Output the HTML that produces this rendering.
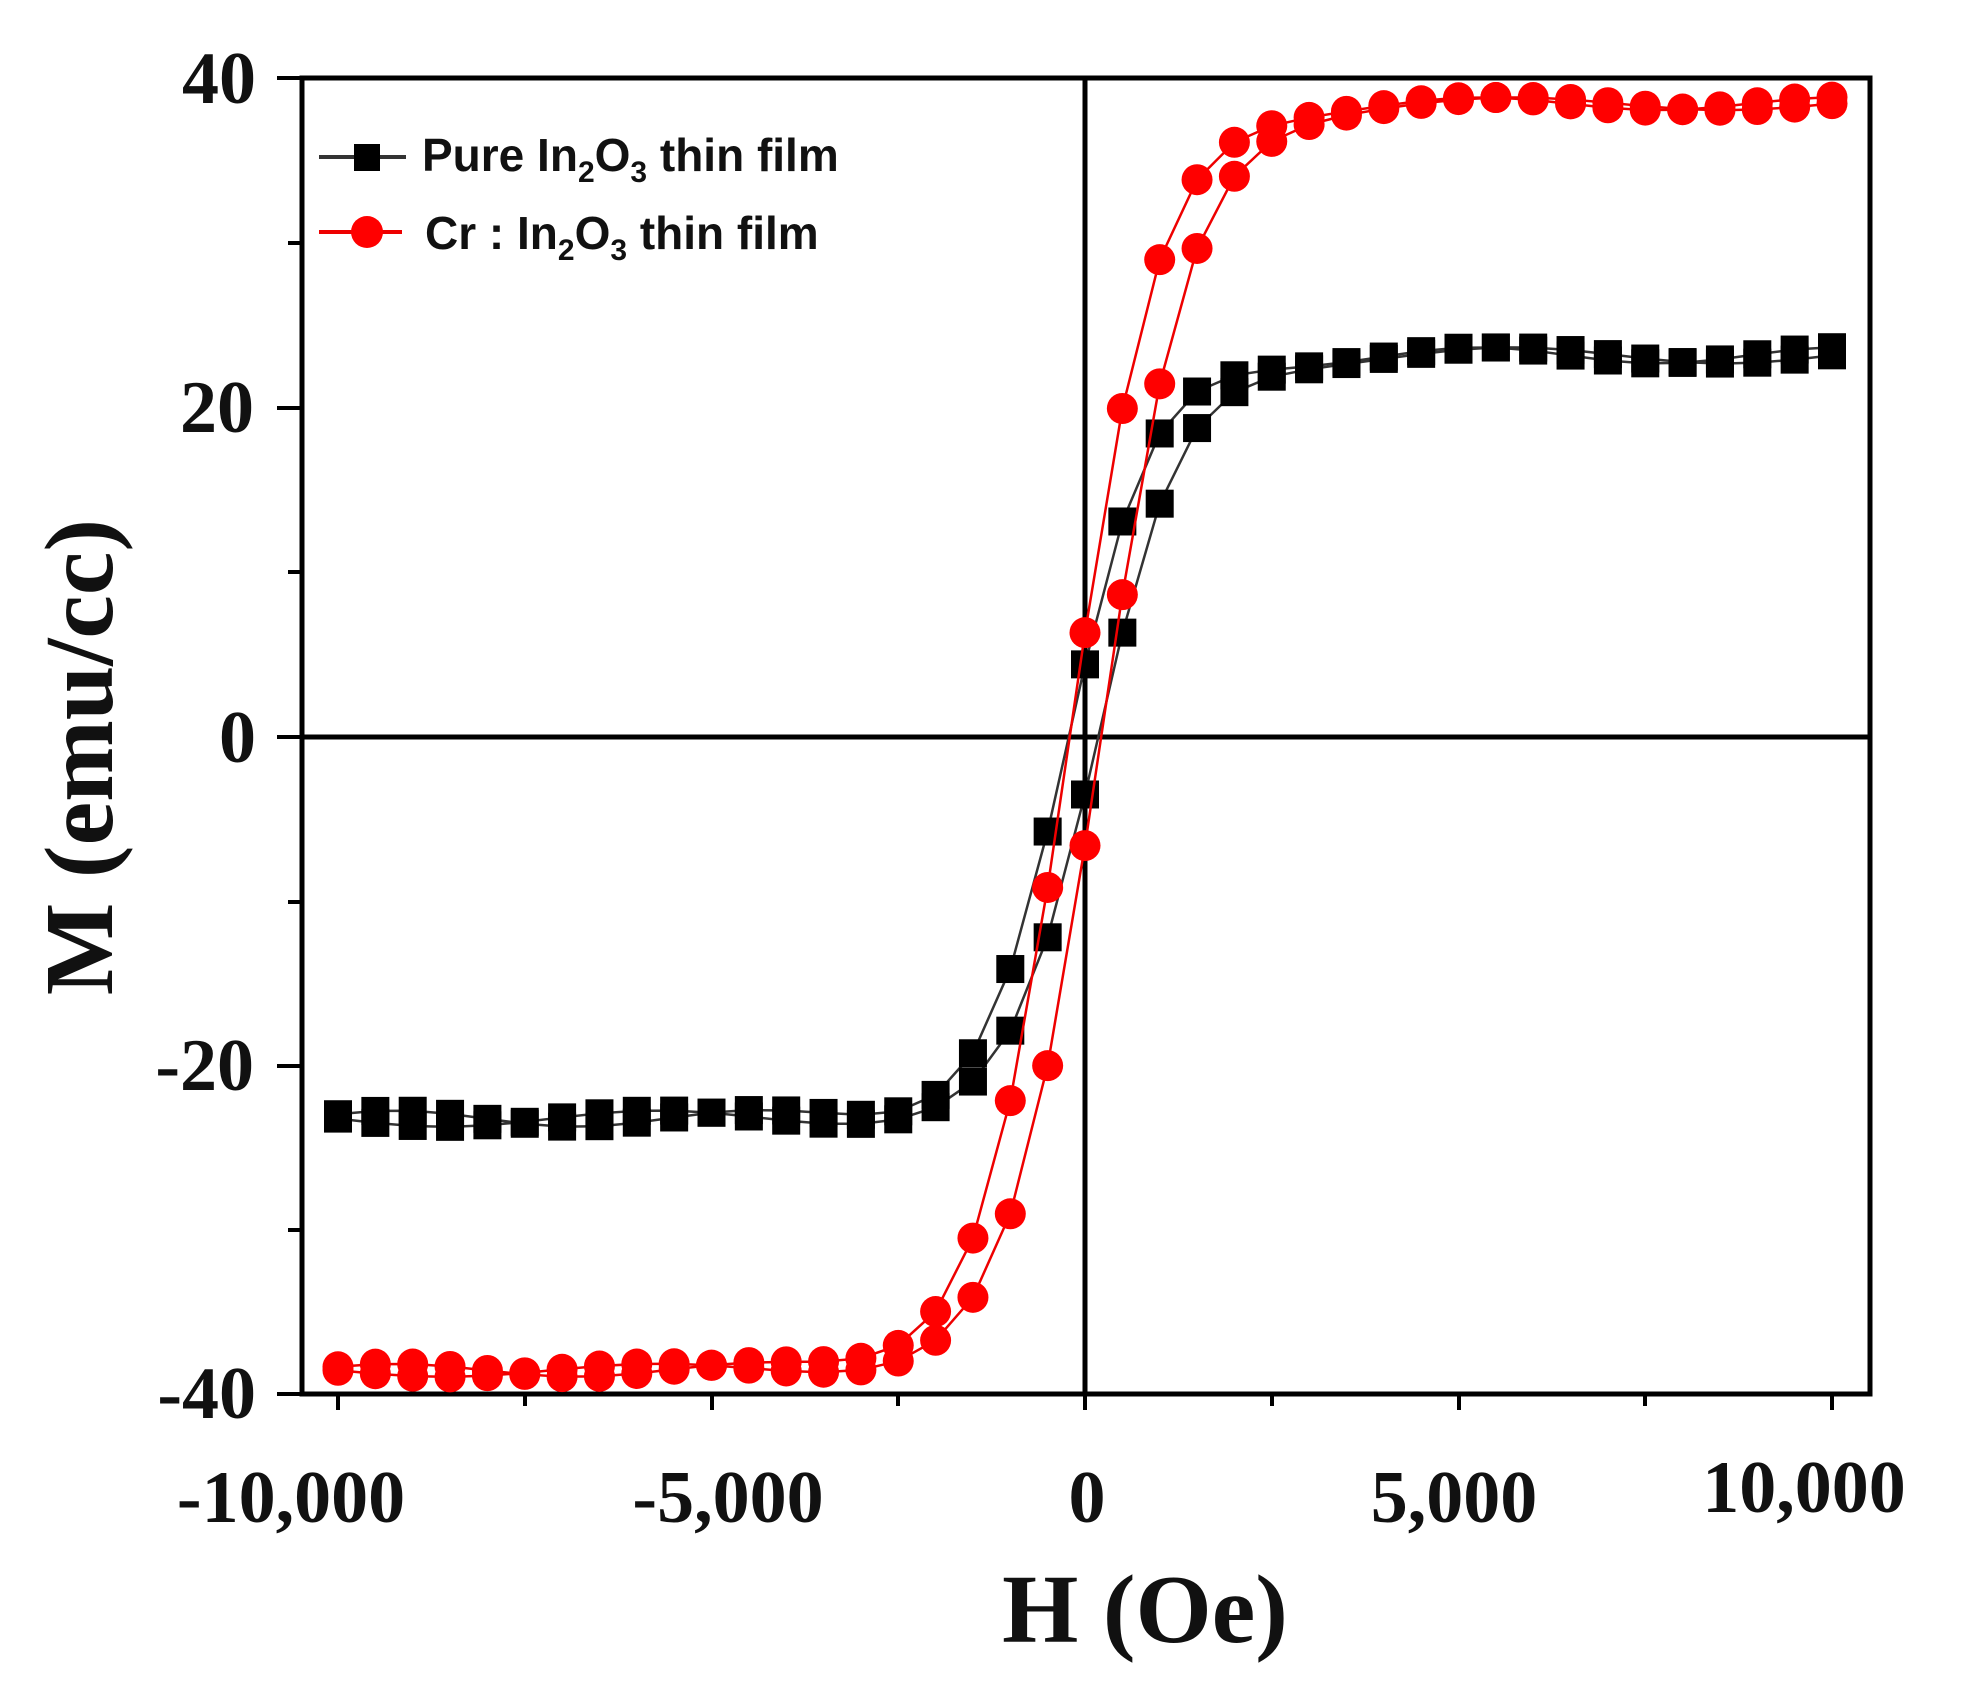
<!DOCTYPE html>
<html><head><meta charset="utf-8"><style>
html,body{margin:0;padding:0;background:#fff;}
svg{display:block}
.t{font-family:"Liberation Serif",serif;font-weight:bold;fill:#111}
.l{font-family:"Liberation Sans",sans-serif;font-weight:bold;fill:#111;font-size:46px}
</style></head><body>
<svg id="s" width="1963" height="1700" viewBox="0 0 1963 1700" xmlns="http://www.w3.org/2000/svg">
<rect width="1963" height="1700" fill="#fff"/>
<g stroke="#000" stroke-width="5" fill="none">
<rect x="302" y="78" width="1568" height="1316"/>
<line x1="1085" y1="78" x2="1085" y2="1394"/>
<line x1="302" y1="737" x2="1870" y2="737"/>
</g>
<g stroke="#000" stroke-width="4">
<line x1="338" y1="1394" x2="338" y2="1410"/><line x1="525" y1="1394" x2="525" y2="1406"/>
<line x1="712" y1="1394" x2="712" y2="1410"/><line x1="898" y1="1394" x2="898" y2="1406"/>
<line x1="1085" y1="1394" x2="1085" y2="1410"/><line x1="1272" y1="1394" x2="1272" y2="1406"/>
<line x1="1459" y1="1394" x2="1459" y2="1410"/><line x1="1645" y1="1394" x2="1645" y2="1406"/>
<line x1="1832" y1="1394" x2="1832" y2="1410"/>
<line x1="277" y1="78" x2="302" y2="78"/><line x1="288" y1="243" x2="302" y2="243"/>
<line x1="277" y1="408" x2="302" y2="408"/><line x1="288" y1="572" x2="302" y2="572"/>
<line x1="277" y1="737" x2="302" y2="737"/><line x1="288" y1="902" x2="302" y2="902"/>
<line x1="277" y1="1066" x2="302" y2="1066"/><line x1="288" y1="1230" x2="302" y2="1230"/>
<line x1="277" y1="1394" x2="302" y2="1394"/>
</g>
<g class="t" font-size="74" text-anchor="end">
<text x="256" y="103">40</text><text x="254" y="432">20</text><text x="256" y="762">0</text>
<text x="254" y="1090">-20</text><text x="256" y="1418">-40</text>
</g>
<g class="t" font-size="74" text-anchor="middle">
<text x="291" y="1522">-10,000</text><text x="728" y="1522">-5,000</text><text x="1087" y="1522">0</text>
<text x="1454" y="1522">5,000</text><text x="1804" y="1512">10,000</text>
</g>
<text class="t" font-size="98" x="1145" y="1642" text-anchor="middle">H (Oe)</text>
<text class="t" font-size="98" transform="translate(112,757) rotate(-90)" text-anchor="middle">M (emu/cc)</text>
<g id="data"></g>
<line x1="319" y1="157" x2="406" y2="157" stroke="#333" stroke-width="4"/>
<rect x="354" y="144" width="26" height="27" fill="#000"/>
<text class="l" x="422" y="171">Pure In<tspan font-size="30" dy="11">2</tspan><tspan dy="-11">O</tspan><tspan font-size="30" dy="11">3</tspan><tspan dy="-11"> thin film</tspan></text>
<line x1="319" y1="232" x2="402" y2="232" stroke="#e00" stroke-width="4"/>
<circle cx="367" cy="232" r="16" fill="#f00"/>
<text class="l" x="425" y="249">Cr : In<tspan font-size="30" dy="11">2</tspan><tspan dy="-11">O</tspan><tspan font-size="30" dy="11">3</tspan><tspan dy="-11"> thin film</tspan></text>
</svg>
<script>
(function(){
var g=document.getElementById('data'),NS='http://www.w3.org/2000/svg';
function X(h){return 1085+h*0.0747;}
function Y(m){return 737-m*16.45;}
function el(n,a){var e=document.createElementNS(NS,n);for(var k in a)e.setAttribute(k,a[k]);g.appendChild(e);return e;}
function series(Ms,w,h1,h2,col,lc,sq,noise){
  var br=[[],[]];
  for(var H=-10000;H<=10000;H+=500){
    var n1=noise?noise*Math.sin(H*0.0013+1):0,n2=noise?noise*Math.cos(H*0.0011):0;
    br[0].push([H,Ms*Math.tanh((H+h1)/w)+n1]);
    br[1].push([H,Ms*Math.tanh((H-h2)/w)+n2]);
  }
  br.forEach(function(b){
    el('polyline',{points:b.map(function(p){return X(p[0])+','+Y(p[1]);}).join(' '),fill:'none',stroke:lc,'stroke-width':2.5});
  });
  br.forEach(function(b){b.forEach(function(p){
    if(sq) el('rect',{x:X(p[0])-14,y:Y(p[1])-14,width:28,height:28,fill:col});
    else el('circle',{cx:X(p[0]),cy:Y(p[1]),r:15.5,fill:col});
  });});
}
series(23.2,1150,200,200,'#000','#333',true,0.5);
series(38.5,1240,195,228,'#f00','#e00',false,0.4);
})();
</script>
</body></html>
